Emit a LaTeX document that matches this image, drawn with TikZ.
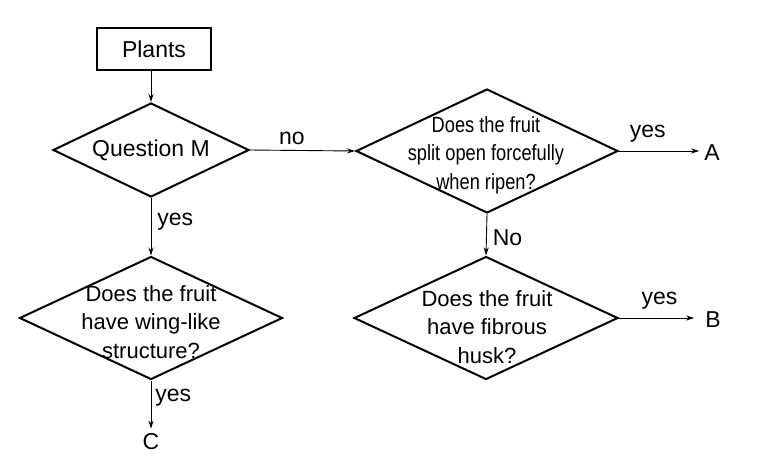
\documentclass[tikz,border=0pt]{standalone}
\usepackage{graphicx}
\usepackage{fontspec}
\setmainfont{Liberation Sans}
\usetikzlibrary{shapes.geometric,arrows.meta}
\newcommand{\squeeze}[1]{\scalebox{0.83}[1]{#1}}
\begin{document}
\begin{tikzpicture}[x=1pt, y=-1pt,
    every node/.style={font=\fontsize{23}{28}\selectfont},
    box/.style={draw, line width=2pt, minimum width=114pt, minimum height=42pt, inner sep=0pt},
    decision/.style={draw, diamond, line width=2pt, inner sep=0pt},
    qtext/.style={align=center, inner sep=0pt, font=\fontsize{22}{28.5}\selectfont},
    answer/.style={inner sep=1pt},
    outcome/.style={inner sep=5pt},
    arrow/.style={line width=0.9pt, -{Stealth[length=8pt,width=5pt]}}]
    \useasboundingbox (0,0) rectangle (773,467);

    % Start
    \node[box] (plants) at (154,49) {Plants};

    % Question M
    \node[decision, aspect=2.08, minimum width=196pt, minimum height=94pt] (qm) at (151,150) {};
    \node (qmtext) at (qm) {Question M};

    % Split open forcefully
    \node[decision, minimum width=262pt, minimum height=124pt] (split) at (487,151) {};
    \node[qtext] (splittext) at (486,155) {\squeeze{Does the fruit}\\ \squeeze{split open forcefully}\\ \squeeze{when ripen?}};

    % Wing-like structure
    \node[decision, minimum width=263pt, minimum height=123pt] (wing) at (151,318) {};
    \node[qtext] (wingtext) at (151,322) {Does the fruit\\ have wing-like\\ structure?};

    % Fibrous husk
    \node[decision, minimum width=264pt, minimum height=123pt] (husk) at (486,318) {};
    \node[qtext] (husktext) at (487,327) {Does the fruit\\ have fibrous\\ husk?};

    % Outcomes
    \node[outcome] (outA) at (712,153) {A};
    \node[outcome] (outB) at (713,320) {B};
    \node[outcome] (outC) at (151,442) {C};

    % Connectors
    \draw[arrow] (plants.south -| qm.north) -- (qm.north);
    \draw[arrow] (qm.east) -- node[answer, pos=0.4, above=4pt] (lno) {no} (split.west);
    \draw[arrow] (qm.south) -- node[answer, pos=0.42, right=5pt] (lyesm) {yes} (wing.north);
    \draw[arrow] (split.east) -- node[answer, pos=0.36, above=7pt] (lyesa) {yes} (split.east -| outA.west);
    \draw[arrow] (split.south) -- node[answer, pos=0.57, right=5pt] (lnosplit) {No} (husk.north);
    \draw[arrow] (wing.south) -- node[answer, pos=0.36, right=3pt] (lyesc) {yes} (outC.north);
    \draw[arrow, shorten >=6pt] (husk.east) -- node[answer, pos=0.5, above=7pt] (lyesb) {yes} (husk.east -| outB.west);
\end{tikzpicture}
\end{document}
